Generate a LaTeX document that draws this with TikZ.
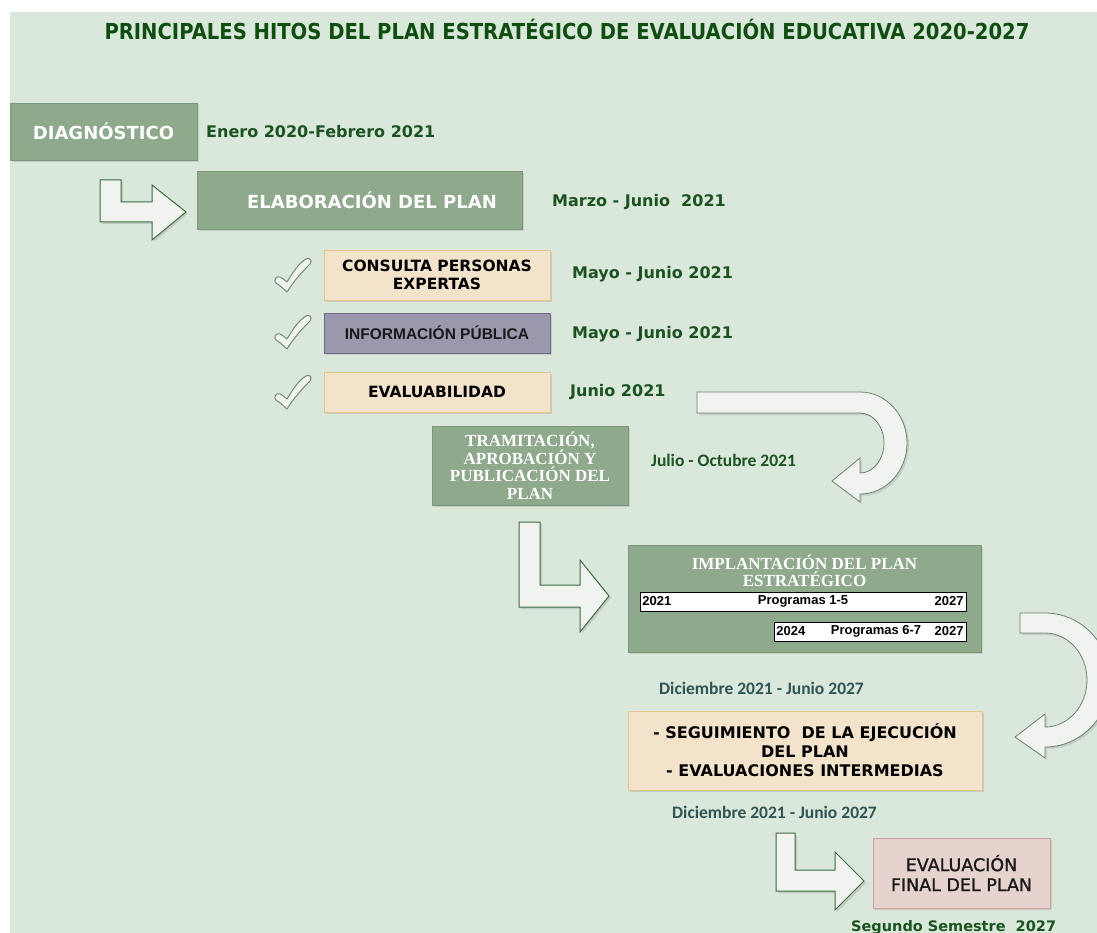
\documentclass[tikz,border=0pt]{standalone}
\usepackage{fontspec}
\setmainfont{DejaVu Sans}
\newfontfamily\titlefont{DejaVu Sans}[FakeStretch=0.89]
\newfontfamily\semifont{DejaVu Sans}[FakeBold=1.2]
\newfontfamily\timesbf{Liberation Serif}
\newfontfamily\arialbf{Liberation Sans}
\newfontfamily\calibf{Carlito}
\usetikzlibrary{shadows}

\definecolor{bggreen}{HTML}{D9E8DA}
\definecolor{boxgreen}{HTML}{8FA98C}
\definecolor{boxgreenline}{HTML}{7D977A}
\definecolor{peach}{HTML}{F3E3CB}
\definecolor{peachline}{HTML}{E4C68C}
\definecolor{lavender}{HTML}{9B97AD}
\definecolor{lavenderline}{HTML}{6E6A84}
\definecolor{rose}{HTML}{E6D3CD}
\definecolor{roseline}{HTML}{C9A59C}
\definecolor{dategreen}{HTML}{1B5320}
\definecolor{dateslate}{HTML}{2F5454}
\definecolor{titlegreen}{HTML}{0E4F10}
\definecolor{arrowfill}{HTML}{F1F3F1}
\definecolor{arrowline}{HTML}{3D6B39}
\definecolor{turnline}{HTML}{6F806E}
\definecolor{checkline}{HTML}{6F906C}

\tikzset{
	softshadow/.style={drop shadow={shadow xshift=2pt, shadow yshift=-2pt, opacity=0.25}},
	greenbox/.style={fill=boxgreen, draw=boxgreenline, text=white, align=center, inner sep=0pt, softshadow,
		font=\bfseries\fontsize{18}{21}\selectfont},
	serifbox/.style={greenbox, font=\timesbf\bfseries\fontsize{17}{17.5}\selectfont},
	peachbox/.style={fill=peach, draw=peachline, text=black, align=center, inner sep=0pt, softshadow,
		font=\bfseries\fontsize{15.5}{18}\selectfont},
	lavbox/.style={fill=lavender, draw=lavenderline, text=black!90, align=center, inner sep=0pt, softshadow,
		font=\arialbf\bfseries\fontsize{15.5}{18}\selectfont},
	rosebox/.style={fill=rose, draw=roseline, text=black!90, align=center, inner sep=0pt, softshadow,
		font=\semifont\fontsize{17.5}{20}\selectfont},
	datelbl/.style={text=dategreen, anchor=west, inner sep=0pt, font=\bfseries\fontsize{16}{19}\selectfont},
	calilbl/.style={text=dategreen, anchor=west, inner sep=0pt, font=\calibf\bfseries\fontsize{17.5}{20}\selectfont},
	progbar/.style={fill=white, draw=black, line width=0.7pt, inner sep=0pt, minimum height=19pt},
	progtxt/.style={inner sep=2.5pt, font=\arialbf\bfseries\fontsize{13}{15}\selectfont},
	blockarrow/.style={fill=arrowfill, draw=arrowline, line width=1pt, softshadow},
	turnarrow/.style={fill=arrowfill, draw=turnline, line width=0.8pt, softshadow},
	checkmk/.style={fill=arrowfill, draw=checkline, line width=1pt, line join=round},
}

\begin{document}
\begin{tikzpicture}[x=1pt, y=-1pt]
	\useasboundingbox (0,0) rectangle (1097,933);
	\clip (0,0) rectangle (1097,933);
	\fill[bggreen] (10,12) rectangle (1097,933);

	% title
	\node[text=titlegreen, font=\titlefont\bfseries\fontsize{22}{26}\selectfont] (title) at (567,29)
		{PRINCIPALES HITOS DEL PLAN ESTRATÉGICO DE EVALUACIÓN EDUCATIVA 2020-2027};

	% diagnostico
	\node[greenbox, minimum width=187pt, minimum height=57pt] (diag) at (103.5,131.5) {DIAGNÓSTICO};
	\node[datelbl] (dDiag) at (206,132) {Enero 2020-Febrero 2021};

	% elaboracion del plan
	\draw[blockarrow] (100,180) -- (121,180) -- (121,202) -- (152,202) -- (152,185) -- (186,212)
		-- (152,240) -- (152,222) -- (100,222) -- cycle;
	\node[greenbox, minimum width=325pt, minimum height=58pt] (elab) at (359.5,200) {};
	\node[text=white, font=\bfseries\fontsize{18}{21}\selectfont] (elabT) at (372,200) {ELABORACIÓN DEL PLAN};
	\node[datelbl] (dElab) at (552,202) {Marzo - Junio\ \ 2021};

	% consultas
	\node[peachbox, minimum width=226pt, minimum height=50pt] (cons) at (437,275) {CONSULTA PERSONAS\\EXPERTAS};
	\node[datelbl] (dCons) at (572,274) {Mayo - Junio 2021};
	\node[lavbox, minimum width=226pt, minimum height=40pt] (info) at (437,333) {INFORMACIÓN PÚBLICA};
	\node[datelbl] (dInfo) at (572,334) {Mayo - Junio 2021};
	\node[peachbox, minimum width=226pt, minimum height=40pt] (evab) at (437,392) {EVALUABILIDAD};
	\node[datelbl] (dEvab) at (570,392) {Junio 2021};

	% checks
	\foreach \ty in {276,333,393} {
		\begin{scope}[shift={(292,\ty)}]
			\draw[checkmk] (-5,16) .. controls (-9,12) and (-13,9) .. (-16,7)
				.. controls (-19,5) and (-16,-1) .. (-12,1) .. controls (-10,2) and (-7,4) .. (-5,6)
				.. controls (1,-4) and (7,-13) .. (14,-17) .. controls (17,-19) and (21,-16) .. (18,-12)
				.. controls (10,-4) and (1,6) .. (-5,16) -- cycle;
		\end{scope}
	}

	% tramitacion
	\draw[turnarrow] (697,392) -- (860,392) arc[start angle=-90, end angle=90, x radius=47, y radius=51]
		-- (860,502) -- (832,481) -- (860,458) -- (860,473)
		arc[start angle=90, end angle=-90, x radius=24, y radius=30] -- (697,413) -- cycle;
	\node[serifbox, minimum width=196pt, minimum height=79pt] (tram) at (530,465.5)
		{TRAMITACIÓN,\\APROBACIÓN Y\\PUBLICACIÓN DEL\\PLAN};
	\node[calilbl] (dTram) at (651,460) {Julio - Octubre 2021};

	% implantacion
	\draw[blockarrow] (519,522) -- (540,522) -- (540,585) -- (580,585) -- (580,560) -- (609,596)
		-- (580,632) -- (580,607) -- (519,607) -- cycle;
	\node[greenbox, minimum width=353pt, minimum height=107pt] (impl) at (804.5,598.5) {};
	\node[align=center, text=white, font=\timesbf\bfseries\fontsize{17}{17.5}\selectfont] (implT) at (804.5,571)
		{IMPLANTACIÓN DEL PLAN\\ESTRATÉGICO};
	\node[progbar, minimum width=326pt] (prog1) at (803,601.5) {};
	\node[progtxt, anchor=west] at (prog1.west) {2021};
	\node[progtxt] at (prog1.center) {Programas 1-5};
	\node[progtxt, anchor=east] at (prog1.east) {2027};
	\node[progbar, minimum width=192pt] (prog2) at (870,631.5) {};
	\node[progtxt, anchor=west] at (prog2.west) {2024};
	\node[progtxt] at ([xshift=6pt]prog2.center) {Programas 6-7};
	\node[progtxt, anchor=east] at (prog2.east) {2027};
	\node[calilbl, text=dateslate] (dImpl) at (659,688) {Diciembre 2021 - Junio 2027};

	% seguimiento
	\draw[turnarrow] (1020,613) -- (1045,613) arc[start angle=-90, end angle=90, x radius=65, y radius=67]
		-- (1045,758) -- (1015,737) -- (1045,714) -- (1045,727)
		arc[start angle=90, end angle=-90, x radius=42, y radius=47] -- (1020,633) -- cycle;
	\node[peachbox, font=\bfseries\fontsize{16}{19}\selectfont, minimum width=354pt, minimum height=79pt] (segu) at (805,750.5)
		{- SEGUIMIENTO\ \ DE LA EJECUCIÓN\\DEL PLAN\\- EVALUACIONES INTERMEDIAS};
	\node[calilbl, text=dateslate] (dSegu) at (672,812) {Diciembre 2021 - Junio 2027};

	% evaluacion final
	\draw[blockarrow] (776,833) -- (795,833) -- (795,870) -- (835,870) -- (835,852) -- (864,881)
		-- (835,910) -- (835,891) -- (776,891) -- cycle;
	\node[rosebox, minimum width=177pt, minimum height=70pt] (final) at (961.5,873) {EVALUACIÓN\\FINAL DEL PLAN};
	\node[datelbl, font=\bfseries\fontsize{14.5}{17}\selectfont, anchor=base west] (dFinal) at (851,931) {Segundo Semestre\ \ 2027};

\end{tikzpicture}
\end{document}
